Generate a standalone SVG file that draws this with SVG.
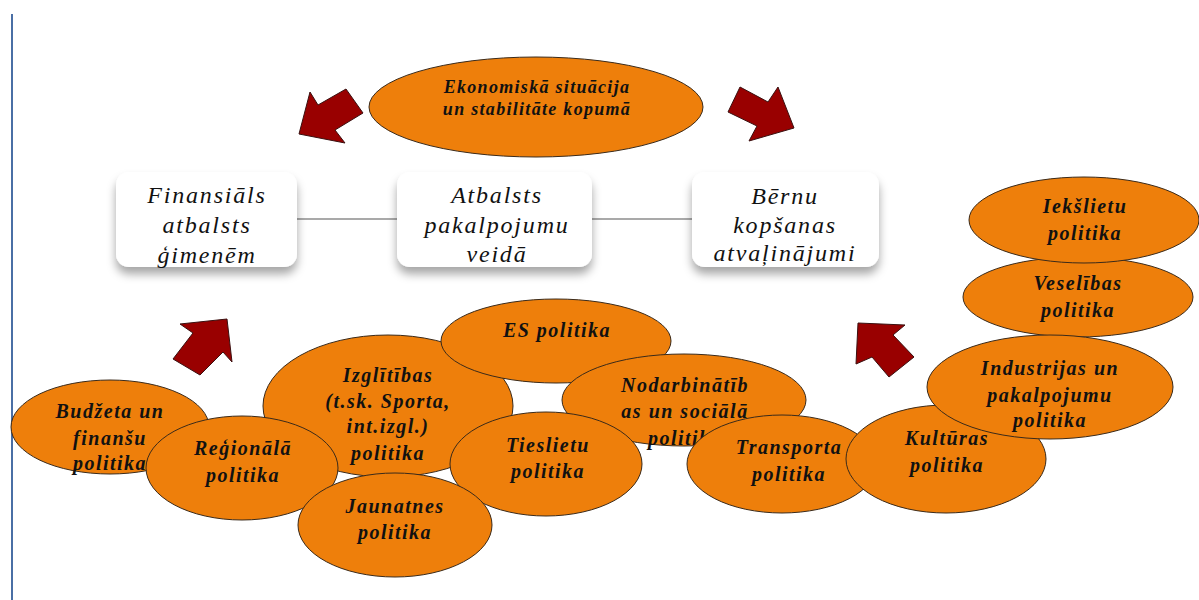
<svg xmlns="http://www.w3.org/2000/svg" width="1199" height="600" viewBox="0 0 1199 600">
<defs>
<filter id="sh" x="-20%" y="-20%" width="140%" height="160%">
<feDropShadow dx="0" dy="7" stdDeviation="5" flood-color="#000" flood-opacity="0.35"/>
</filter>
<style>
.ell{fill:#ee7f0b;stroke:#3a2a1a;stroke-width:1}
.et{font-family:"Liberation Serif",serif;font-style:italic;font-weight:bold;font-size:20px;letter-spacing:1.5px;fill:#111;text-anchor:middle}
.box{fill:#fff;filter:url(#sh)}
.bt{font-family:"Liberation Serif",serif;font-style:italic;font-size:24px;letter-spacing:1.8px;fill:#111;text-anchor:middle}
.arr{fill:#990000;stroke:#3a1010;stroke-width:1;stroke-linejoin:miter}
.con{stroke:#555;stroke-width:1.2;fill:none}
</style>
</defs>
<rect width="1199" height="600" fill="#fff"/>
<line x1="12" y1="14" x2="12" y2="600" stroke="#4a6fa5" stroke-width="2"/>

<g id="connectors">
<line class="con" x1="297" y1="219" x2="397" y2="219"/>
<line class="con" x1="592" y1="219" x2="692" y2="219"/>
</g>

<g id="arrows">
<polygon class="arr" points="299,134 310,92 318,105 346,89 363,113 335,130 345,143"/>
<polygon class="arr" points="740,87 768,102 778,87 794,128 749,141 757,126 728,112"/>
<polygon class="arr" points="180,324 227,319 232,362 223,352 200,375 173,359 193,333"/>
<polygon class="arr" points="858,323 905,325 893,335 914,357 889,377 872,357 856,364"/>
</g>

<g id="ekonomiska">
<ellipse class="ell" cx="536" cy="107" rx="167" ry="50"/>
<text class="et" style="font-size:18px;letter-spacing:1.3px"><tspan x="537" y="93">Ekonomiskā situācija</tspan><tspan x="537" y="115">un stabilitāte kopumā</tspan></text>
</g>

<g id="finansials">
<rect class="box" x="116" y="172" width="181" height="95" rx="13"/>
<text class="bt"><tspan x="207" y="203">Finansiāls</tspan><tspan x="207" y="233">atbalsts</tspan><tspan x="207" y="263">ģimenēm</tspan></text>
</g>
<g id="atbalsts">
<rect class="box" x="397" y="172" width="195" height="95" rx="13"/>
<text class="bt"><tspan x="497" y="203">Atbalsts</tspan><tspan x="497" y="233">pakalpojumu</tspan><tspan x="497" y="262">veidā</tspan></text>
</g>
<g id="bernu">
<rect class="box" x="692" y="172" width="187" height="95" rx="13"/>
<text class="bt"><tspan x="785" y="204">Bērnu</tspan><tspan x="785" y="233">kopšanas</tspan><tspan x="785" y="261">atvaļinājumi</tspan></text>
</g>

<g id="budzeta">
<ellipse class="ell" cx="110" cy="427" rx="99" ry="47"/>
<text class="et"><tspan x="110" y="418">Budžeta un</tspan><tspan x="110" y="445">finanšu</tspan><tspan x="110" y="470">politika</tspan></text>
</g>
<g id="izglitibas">
<ellipse class="ell" cx="388" cy="406" rx="125" ry="71"/>
<text class="et"><tspan x="388" y="382">Izglītības</tspan><tspan x="388" y="408">(t.sk. Sporta,</tspan><tspan x="388" y="433">int.izgl.)</tspan><tspan x="388" y="460">politika</tspan></text>
</g>
<g id="regionala">
<ellipse class="ell" cx="242" cy="468" rx="96" ry="52"/>
<text class="et"><tspan x="243" y="455">Reģionālā</tspan><tspan x="243" y="482">politika</tspan></text>
</g>
<g id="es">
<ellipse class="ell" cx="556" cy="341" rx="115" ry="42"/>
<text class="et"><tspan x="557" y="337">ES politika</tspan></text>
</g>
<g id="nodarbinatiba">
<ellipse class="ell" cx="684" cy="400" rx="122" ry="46"/>
<text class="et"><tspan x="685" y="392">Nodarbinātīb</tspan><tspan x="685" y="418">as un sociālā</tspan><tspan x="685" y="445">politika</tspan></text>
</g>
<g id="tieslietu">
<ellipse class="ell" cx="546" cy="464" rx="96" ry="52"/>
<text class="et"><tspan x="548" y="452">Tieslietu</tspan><tspan x="548" y="478">politika</tspan></text>
</g>
<g id="jaunatnes">
<ellipse class="ell" cx="395" cy="525" rx="97" ry="52"/>
<text class="et"><tspan x="395" y="513">Jaunatnes</tspan><tspan x="395" y="539">politika</tspan></text>
</g>
<g id="transporta">
<ellipse class="ell" cx="782" cy="464" rx="95" ry="49"/>
<text class="et"><tspan x="789" y="454">Transporta</tspan><tspan x="789" y="481">politika</tspan></text>
</g>
<g id="kulturas">
<ellipse class="ell" cx="946" cy="459" rx="100" ry="54"/>
<text class="et"><tspan x="947" y="445">Kultūras</tspan><tspan x="947" y="472">politika</tspan></text>
</g>
<g id="veselibas">
<ellipse class="ell" cx="1078" cy="297" rx="115" ry="40"/>
<text class="et"><tspan x="1078" y="290">Veselības</tspan><tspan x="1078" y="317">politika</tspan></text>
</g>
<g id="ieksietu">
<ellipse class="ell" cx="1084" cy="220" rx="115" ry="43"/>
<text class="et"><tspan x="1085" y="213">Iekšlietu</tspan><tspan x="1085" y="240">politika</tspan></text>
</g>
<g id="industrijas">
<ellipse class="ell" cx="1050" cy="387" rx="123" ry="52"/>
<text class="et"><tspan x="1050" y="375">Industrijas un</tspan><tspan x="1050" y="402">pakalpojumu</tspan><tspan x="1050" y="427">politika</tspan></text>
</g>
</svg>
